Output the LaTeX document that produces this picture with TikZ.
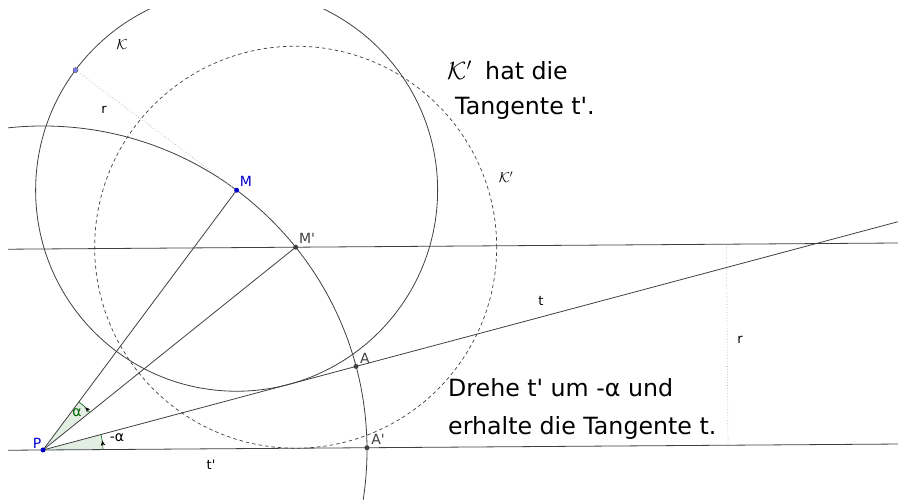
\documentclass[tikz,border=0pt]{standalone}
\usepackage{fontspec}
\setmainfont{DejaVu Sans}[Ligatures=TeXOff]
\usetikzlibrary{calc,arrows.meta}
\definecolor{ln}{HTML}{404040}
\definecolor{ptblue}{HTML}{0000CC}
\definecolor{sectfill}{HTML}{E3EEE3}
\definecolor{sectline}{HTML}{006400}
\definecolor{qfill}{HTML}{8080FF}
\tikzset{
  geo/.style={draw=ln, line width=0.8pt},
  dashedcirc/.style={draw=ln, line width=0.7pt, dash pattern=on 3.5pt off 3pt},
  dotline/.style={draw=gray!60, line width=0.7pt, dotted},
  bluedot/.style={circle, fill=ptblue, inner sep=0pt, minimum size=5pt},
  graydot/.style={circle, fill=ln, inner sep=0pt, minimum size=5pt},
  qdot/.style={circle, fill=qfill, draw=ln, line width=0.4pt, inner sep=0pt, minimum size=5pt},
  lbl/.style={font=\fontsize{13}{15}\selectfont, inner sep=0pt},
  ptlbl/.style={font=\fontsize{14}{16}\selectfont, inner sep=0pt},
  bigtxt/.style={font=\fontsize{23.7}{27}\selectfont, inner sep=0pt, anchor=base west},
}
\begin{document}
\begin{tikzpicture}[x=1pt,y=1pt]
\useasboundingbox (0,0) rectangle (898,500);
% geometry
\def\Rr{324}
\def\rr{201}
\def\tha{0.4}
\def\aM{53.3}
\def\aMp{38.75}
\def\at{14.95}
\coordinate (P) at (43,50);
\coordinate (M) at ($(P)+(\aM:\Rr)$);
\coordinate (Mp) at ($(P)+(\aMp:\Rr)$);
\coordinate (A) at ($(P)+(\at:\Rr)$);
\coordinate (Ap) at ($(P)+(\tha:\Rr)$);
\coordinate (Q) at ($(M)+(\aM+90:\rr)$);
\coordinate (tpL) at ($(P)+(\tha:-40)$);
\coordinate (tpR) at ($(P)+(\tha:900)$);
\coordinate (mpL) at ($(Mp)+(\tha:-320)$);
\coordinate (mpR) at ($(Mp)+(\tha:650)$);
\coordinate (tR) at ($(P)+(\at:900)$);
\coordinate (D1) at ($(P)+(\tha:685)$);
\coordinate (D2) at ($(D1)+(\tha+90:\rr)$);
% angle sectors
\fill[sectfill] (P) -- ++(\aMp:60) arc[start angle=\aMp, end angle=\aM, radius=60] -- cycle;
\draw[sectline, line width=0.6pt] ($(P)+(\aMp:60)$) arc[start angle=\aMp, end angle=\aM, radius=60];
\fill[sectfill] (P) -- ++(\tha:60) arc[start angle=\tha, end angle=\at, radius=60] -- cycle;
\draw[sectline, line width=0.6pt] ($(P)+(\tha:60)$) arc[start angle=\tha, end angle=\at, radius=60];
\draw[black, line width=0.5pt, -{Stealth[length=5pt,width=4.5pt]}] ($(P)+(\aMp+3:60)$) arc[start angle=\aMp+3, end angle=\aMp+6.5, radius=60];
\draw[black, line width=0.5pt, -{Stealth[length=5pt,width=4.5pt]}] ($(P)+(\tha+4:60)$) arc[start angle=\tha+4, end angle=\tha+8.5, radius=60];
\begin{scope}
\clip (8,0) rectangle (898,490);
\draw[geo] (tpL) -- (tpR);
\draw[geo] (mpL) -- (mpR);
\draw[geo] (P) -- (tR);
\draw[geo] (P) -- (M);
\draw[geo] (P) -- (Mp);
\draw[geo] (M) circle[radius=\rr];
\draw[dashedcirc] (Mp) circle[radius=\rr];
\draw[geo] (P) circle[radius=\Rr];
\draw[dotline] (Q) -- (M);
\draw[dotline] (D1) -- (D2);
\end{scope}
% points
\node[bluedot] (nP) at (P) {};
\node[bluedot] (nM) at (M) {};
\node[graydot] (nMp) at (Mp) {};
\node[graydot] (nA) at (A) {};
\node[graydot] (nAp) at (Ap) {};
\node[qdot] (nQ) at (Q) {};
% labels
\node[ptlbl, text=ptblue] at (37,57) {P};
\node[ptlbl, text=ptblue] at (246,319) {M};
\node[ptlbl, text=ln] at (307,262) {M'};
\node[ptlbl, text=ln] at (365,142) {A};
\node[ptlbl, text=ln] at (378,61) {A'};
\node[lbl] at (541,199) {t};
\node[lbl] at (211,35) {t'};
\node[lbl] at (104,390) {r};
\node[lbl] at (740,160) {r};
\node[ptlbl] at (122,455) {$\mathcal{K}$};
\node[ptlbl] at (506,323) {$\mathcal{K}'$};
\node[ptlbl, text=sectline] at (77,87) {α};
\node[ptlbl] at (117,62) {-α};
% texts
\node[bigtxt] at (447,420) {$\mathcal{K}'$\hspace{0.25em} hat die};
\node[bigtxt] at (455,385) {Tangente t'.};
\node[bigtxt] at (448,103) {Drehe t' um -α und};
\node[bigtxt] at (448,65) {erhalte die Tangente t.};
\end{tikzpicture}
\end{document}
